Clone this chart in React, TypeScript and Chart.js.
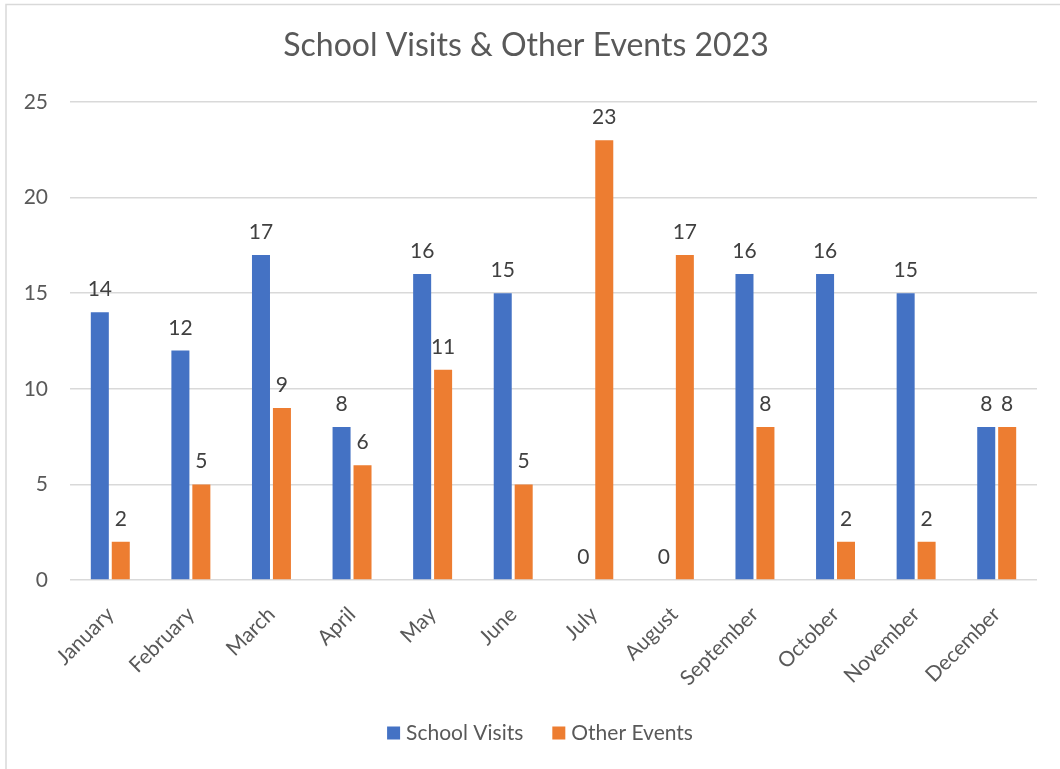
import React, { useEffect, useRef } from "react";
import { Chart, registerables } from "chart.js";

Chart.register(...registerables);

const categories = [
  "January", "February", "March", "April", "May", "June",
  "July", "August", "September", "October", "November", "December",
];
const schoolVisits = [14, 12, 17, 8, 16, 15, 0, 0, 16, 16, 15, 8];
const otherEvents = [2, 5, 9, 6, 11, 5, 23, 17, 8, 2, 2, 8];
const seriesNames = ["School Visits", "Other Events"];
const seriesColors = ["#4472C4", "#ED7D31"];
const chartTitle = "School Visits & Other Events 2023";
const yMin = 0;
const yMax = 25;
const yStep = 5;

const FONT = "Lato, 'Open Sans', sans-serif";
const TEXT = "#595959";
const LABEL = "#404040";
const GRID = "#d9d9d9";

export default function App() {
  const ref = useRef<HTMLCanvasElement>(null);

  useEffect(() => {
    if (!ref.current) return;
    const overlay = {
      id: "overlay",
      beforeDraw(chart: any) {
        const ctx = chart.ctx;
        ctx.save();
        ctx.strokeStyle = GRID;
        ctx.lineWidth = 1.5;
        ctx.beginPath();
        ctx.moveTo(6, 769);
        ctx.lineTo(6, 4.5);
        ctx.lineTo(1060, 4.5);
        ctx.stroke();
        ctx.restore();
      },
      afterDatasetsDraw(chart: any) {
        const ctx = chart.ctx;
        ctx.save();
        ctx.font = `21px ${FONT}`;
        ctx.fillStyle = LABEL;
        ctx.textAlign = "center";
        ctx.textBaseline = "alphabetic";
        chart.data.datasets.forEach((ds: any, di: number) => {
          const meta = chart.getDatasetMeta(di);
          meta.data.forEach((el: any, i: number) => {
            ctx.fillText(String(ds.data[i]), el.x, el.y - 16);
          });
        });
        ctx.restore();
      },
      afterDraw(chart: any) {
        const ctx = chart.ctx;
        ctx.save();
        ctx.fillStyle = TEXT;
        ctx.font = `32px ${FONT}`;
        ctx.textAlign = "center";
        ctx.textBaseline = "alphabetic";
        ctx.fillText(chartTitle, 526, 56);

        ctx.font = `21px ${FONT}`;
        ctx.textAlign = "left";
        const sq = 13;
        const gapSq = 6;
        const gapItems = 29;
        const widths = seriesNames.map((n) => ctx.measureText(n).width);
        const total =
          widths.reduce((a, b) => a + b, 0) + seriesNames.length * (sq + gapSq) + gapItems * (seriesNames.length - 1);
        let x = 540 - total / 2;
        seriesNames.forEach((n, i) => {
          ctx.fillStyle = seriesColors[i];
          ctx.fillRect(x, 726.5, sq, sq);
          x += sq + gapSq;
          ctx.fillStyle = TEXT;
          ctx.fillText(n, x, 740);
          x += widths[i] + gapItems;
        });
        ctx.restore();
      },
    };

    const chart = new Chart(ref.current, {
      type: "bar",
      data: {
        labels: categories,
        datasets: [
          {
            label: seriesNames[0],
            data: schoolVisits,
            backgroundColor: seriesColors[0],
            categoryPercentage: 0.52,
            barPercentage: 0.86,
          },
          {
            label: seriesNames[1],
            data: otherEvents,
            backgroundColor: seriesColors[1],
            categoryPercentage: 0.52,
            barPercentage: 0.86,
          },
        ],
      },
      options: {
        responsive: false,
        animation: false,
        layout: { padding: { left: 8, top: 102, right: 23, bottom: 69 } },
        plugins: {
          legend: { display: false },
          title: { display: false },
          tooltip: { enabled: false },
        },
        scales: {
          x: {
            grid: { display: false, drawTicks: false },
            border: { display: false },
            ticks: {
              maxRotation: 45,
              minRotation: 45,
              padding: 22,
              color: TEXT,
              font: { family: FONT, size: 21 },
              autoSkip: false,
            },
            afterFit(s: any) {
              s.height = 120;
            },
          },
          y: {
            min: yMin,
            max: yMax,
            ticks: {
              stepSize: yStep,
              padding: 22,
              color: TEXT,
              font: { family: FONT, size: 21 },
            },
            grid: { color: GRID, lineWidth: 1.5, drawTicks: false },
            border: { display: false },
            afterFit(s: any) {
              s.width = 62;
            },
          },
        },
      },
      plugins: [overlay],
    } as any);
    return () => chart.destroy();
  }, []);

  return (
    <div style={{ position: "absolute", left: 0, top: 0, width: 1060, height: 769, background: "#fff" }}>
      <canvas ref={ref} width={1060} height={769} style={{ display: "block" }} />
    </div>
  );
}
